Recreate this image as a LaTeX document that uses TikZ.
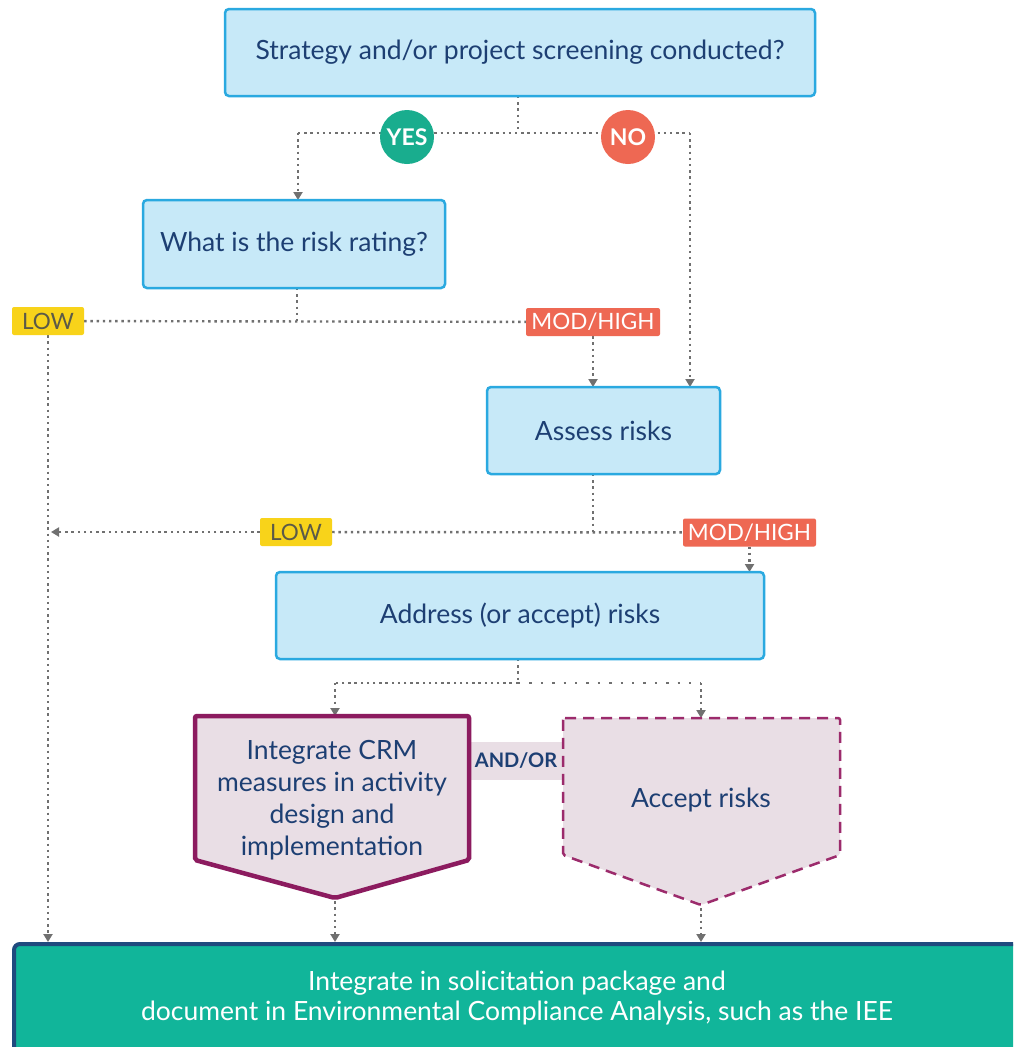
\documentclass[tikz,border=0pt]{standalone}
\usepackage{fontspec}
\setmainfont{Lato}
\usetikzlibrary{arrows.meta}
\definecolor{boxfill}{HTML}{C7E9F8}
\definecolor{boxline}{HTML}{2AA9E0}
\definecolor{navy}{HTML}{1D3F73}
\definecolor{yesg}{HTML}{19AD8E}
\definecolor{nored}{HTML}{EE6853}
\definecolor{lowy}{HTML}{F8D31A}
\definecolor{lowt}{HTML}{5B5A48}
\definecolor{pinkf}{HTML}{E9DEE5}
\definecolor{mag}{HTML}{8C1B5F}
\definecolor{magd}{HTML}{9C2B6C}
\definecolor{tealf}{HTML}{11B59A}
\definecolor{tealline}{HTML}{1F4A7E}
\definecolor{connc}{HTML}{707070}
\pgfdeclarelayer{bg}
\pgfdeclarelayer{bgback}
\pgfsetlayers{bgback,bg,main}
\begin{document}
\begin{tikzpicture}[x=1pt,y=-1pt,
  qbox/.style={draw=boxline, line width=2.5pt, fill=boxfill, rounded corners=4pt, text=navy,
    font=\fontsize{26.5}{30}\selectfont, inner sep=0pt, outer sep=0pt},
  conn/.style={draw=connc, line width=2.4pt, dash pattern=on 2.4pt off 3.8pt},
  arr/.style={conn, -{Triangle[width=9pt,length=8pt,fill=connc]}},
  badge/.style={circle, minimum size=54pt, inner sep=0pt, text=white, font=\fontsize{23}{26}\selectfont\bfseries},
  tag/.style={rounded corners=2pt, minimum height=28pt, inner sep=0pt, font=\fontsize{22.5}{26}\selectfont},
  pent/.style={fill=pinkf, rounded corners=2pt},
  ptext/.style={text=navy, align=center, font=\fontsize{26.5}{32}\selectfont},
]
\begin{pgfonlayer}{bgback}
\useasboundingbox (0,0) rectangle (1013,1047);
\fill[white] (0,0) rectangle (1013,1047);
\end{pgfonlayer}

% boxes
\node[qbox, minimum width=590pt, minimum height=87pt] (top) at (520,52.5) {Strategy and/or project screening conducted?};
\node[qbox, minimum width=302pt, minimum height=88pt] (risk) at (294,244) {What is the risk rating?};
\node[qbox, minimum width=233pt, minimum height=87pt] (assess) at (603.5,430.5) {Assess risks};
\node[qbox, minimum width=488pt, minimum height=87pt] (address) at (520,615.5) {Address (or accept) risks};

\coordinate (j1) at (518,133);
\coordinate (yl) at (298,133);
\coordinate (nr) at (690,133);
\coordinate (j2) at (297,321);
\coordinate (j3) at (593,532);
\coordinate (j4) at (518,683);
\coordinate (crmtop) at (335,716);
\coordinate (acctop) at (701,718);
\coordinate (crmtip) at (335,898);
\coordinate (acctip) at (701,905);

% badges and tags
\node[badge, fill=yesg] (yes) at (407,137) {YES};
\node[badge, fill=nored] (no) at (628,137) {NO};
\node[tag, fill=lowy, text=lowt, minimum width=72pt] (low1) at (48,321) {LOW};
\node[tag, fill=nored, text=white, minimum width=134pt] (mod1) at (593,322) {MOD/HIGH};
\node[tag, fill=lowy, text=lowt, minimum width=72pt] (low2) at (296,532) {LOW};
\node[tag, fill=nored, text=white, minimum width=133pt] (mod2) at (749.5,532.5) {MOD/HIGH};

% AND/OR band and pentagons
\begin{pgfonlayer}{bg}
\fill[pinkf] (460,742) rectangle (570,780);
\end{pgfonlayer}
\path[pent, draw=mag, line width=4.5pt] (195,716) -- (469,716) -- (469,860) -- (crmtip) -- (195,860) -- cycle;
\path[pent, draw=magd, line width=2.5pt, dash pattern=on 11pt off 7pt] (563,718) -- (840,718) -- (840,855) -- (acctip) -- (563,855) -- cycle;
\node[text=navy, font=\fontsize{20}{24}\selectfont\bfseries] (andor) at (516,761) {AND/OR};
\node[ptext] (crm) at (332,800) {Integrate CRM\\measures in activity\\design and\\implementation};
\node[ptext] (acc) at (701,800) {Accept risks};

% final box
\begin{scope}
\clip (0,0) rectangle (1013,1047);
\node[draw=tealline, line width=4pt, fill=tealf, rounded corners=6pt, minimum width=1020pt, minimum height=120pt,
  inner sep=0pt, anchor=north west] (final) at (12,942) {};
\end{scope}
\node[text=white, align=center, font=\fontsize{26.5}{30}\selectfont] (finaltext) at (517,998)
  {Integrate in solicitation package and\\document in Environmental Compliance Analysis, such as the IEE};

% connectors
\begin{pgfonlayer}{bg}
\draw[conn] (top.south -| j1) -- (j1);
\draw[conn] (yl) -- (nr);
\draw[arr] (yl) -- (yl |- risk.north);
\draw[arr] (nr) -- (nr |- assess.north);

\draw[conn] (risk.south -| j2) -- (j2);
\draw[conn] (low1) -- (mod1);
\draw[arr] (mod1) -- (mod1 |- assess.north);
\draw[arr] (low1) -- (low1 |- final.north);

\draw[conn] (assess.south -| j3) -- (j3);
\draw[arr] (low2) -- ([xshift=3pt]low1 |- low2);
\draw[conn] (low2) -- (mod2);
\draw[arr] (mod2) -- (mod2 |- address.north);

\draw[conn] (address.south -| j4) -- (j4);
\draw[conn] (j4) -- (j4 -| crmtop);
\draw[arr] (j4 -| crmtop) -- (crmtop);
\draw[conn, dash pattern=on 2.4pt off 9pt] (j4) -- (j4 -| acctop);
\draw[arr] (j4 -| acctop) -- (acctop);

\draw[arr] ([yshift=3pt]crmtip) -- (crmtip |- final.north);
\draw[arr] ([yshift=3pt]acctip) -- (acctip |- final.north);
\end{pgfonlayer}
\end{tikzpicture}
\end{document}
